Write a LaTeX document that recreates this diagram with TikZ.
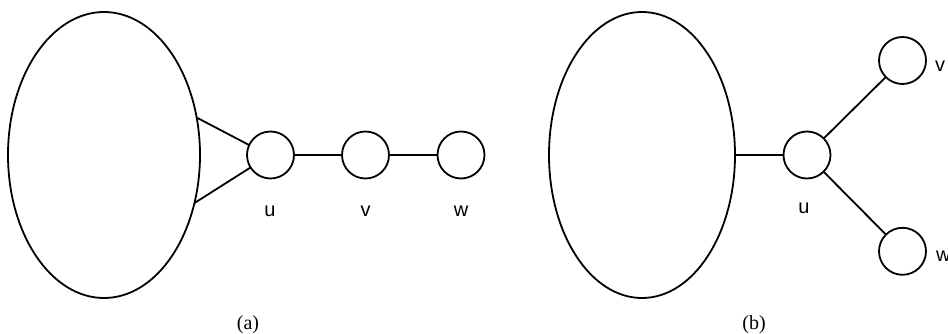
\documentclass[tikz,border=0pt]{standalone}
\usepackage{fontspec}
\setmainfont{Liberation Serif}
\newfontfamily\arialf{Liberation Sans}
\usetikzlibrary{shapes.geometric}
\begin{document}
\begin{tikzpicture}[x=1pt,y=-1pt,
  blob/.style={draw,ellipse,line width=1.8pt,inner sep=0pt,outer sep=0pt},
  vtx/.style={draw,circle,line width=1.8pt,minimum size=47pt,inner sep=0pt,outer sep=0pt},
  link/.style={line width=1.8pt},
  lab/.style={font=\arialf\fontsize{20}{22}\selectfont,inner sep=0pt},
  captxt/.style={font=\fontsize{20}{22}\selectfont,inner sep=0pt}]
\useasboundingbox (0,0) rectangle (948,334);
% (a)
\node[blob,minimum width=192pt,minimum height=286pt] (La) at (104,155) {};
\node[vtx] (ua) at (270.5,155) {};
\node[vtx] (va) at (365.5,155) {};
\node[vtx] (wa) at (461,155) {};
\draw[link] (La.22) -- (ua.155);
\draw[link] (La.-28) -- (ua.212);
\draw[link] (ua) -- (va);
\draw[link] (va) -- (wa);
\node[lab] (lua) at (270,211.5) {u};
\node[lab] (lva) at (365.5,211.5) {v};
\node[lab] (lwa) at (461,211.5) {w};
\node[captxt] (capa) at (248,325) {(a)};
% (b)
\node[blob,minimum width=186pt,minimum height=286pt] (Lb) at (642,155) {};
\node[vtx] (ub) at (807,155) {};
\node[vtx] (vb) at (902.5,60.5) {};
\node[vtx] (wb) at (902.5,251.3) {};
\draw[link] (Lb.east) -- (ub.west);
\draw[link] (ub) -- (vb);
\draw[link] (ub) -- (wb);
\node[lab] (lub) at (804,208) {u};
\node[lab,anchor=west] (lvb) at (935,66) {v};
\node[lab,anchor=west] (lwb) at (936,256) {w};
\node[captxt] (capb) at (754,325) {(b)};
\end{tikzpicture}
\end{document}
